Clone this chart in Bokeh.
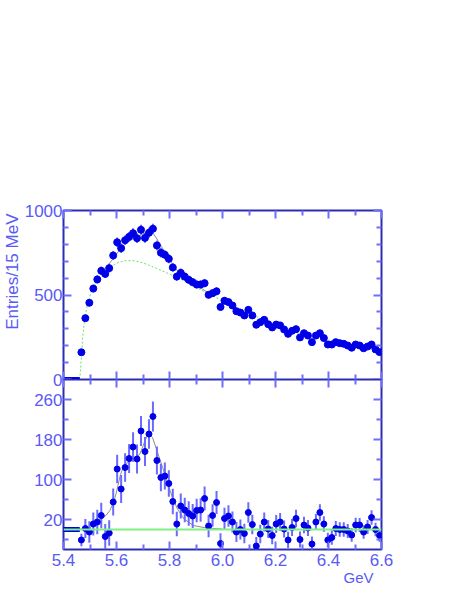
import numpy as np
from bokeh.plotting import figure
from bokeh.layouts import column
from bokeh.models import (Range1d, LinearAxis, FixedTicker, Title, Span,
                          PrintfTickFormatter, CustomJSTickFormatter, ColumnDataSource)
from bokeh.embed import file_html
from bokeh.resources import INLINE

# ---------------- data ----------------
bin_lo = 5.4
bin_width = 0.015   # 15 MeV bins
entries = [0, 0, 0, 0, 161, 363, 454, 538, 592, 643,
           625, 659, 734, 812, 777, 824, 844, 866, 836, 886,
           838, 868, 892, 793, 750, 738, 714, 663, 609, 631,
           609, 590, 576, 562, 562, 570, 501, 511, 522, 429,
           466, 458, 438, 404, 396, 379, 412, 379, 324, 339,
           353, 327, 308, 325, 320, 296, 270, 288, 298, 249,
           274, 260, 221, 260, 274, 245, 207, 207, 221, 215,
           211, 201, 188, 207, 201, 185, 195, 207, 178, 162]
signal = [0, 0, 0, 0, -21, 2, -5, 11, 15, 28,
          -14, -7, 55, 121, 81, 124, 142, 165, 141, 197,
          156, 191, 226, 138, 104, 107, 92, 56, 11, 47,
          39, 32, 27, 38, 39, 62, 7, 28, 54, -28,
          22, 27, 15, -5, 0, -8, 34, 10, -33, -9,
          15, 1, -12, 11, 15, 1, -21, 4, 22, -20,
          9, 3, -29, 15, 34, 11, -21, -16, 2, 0,
          0, -3, -11, 9, 9, -5, 5, 24, 0, -12]

# background fit (green dotted, top panel)
bkg_x = [5.461, 5.465, 5.468, 5.472, 5.477, 5.483, 5.490, 5.502, 5.515, 5.53, 5.55,
         5.57, 5.60, 5.63, 5.66, 5.69, 5.72, 5.75, 5.80, 5.85, 5.90, 5.95, 6.00,
         6.05, 6.10, 6.15, 6.20, 6.25, 6.30, 6.35, 6.40, 6.45, 6.50, 6.55, 6.60]
bkg_y = [0, 70, 142, 240, 320, 385, 438, 507, 556, 592, 628,
         655, 688, 702, 704, 695, 678, 658, 624, 588, 545, 505, 465,
         428, 392, 357, 322, 293, 268, 250, 233, 218, 203, 188, 170]
# total fit (grey, top panel)
tot_x = [5.54, 5.56, 5.58, 5.60, 5.62, 5.64, 5.66, 5.68, 5.70, 5.72, 5.735,
         5.75, 5.77, 5.79, 5.81, 5.83, 5.85, 5.88, 5.92, 5.96]
tot_y = [632, 662, 700, 742, 785, 812, 830, 845, 862, 878, 872,
         838, 786, 735, 685, 643, 608, 578, 540, 498]
# signal fit (grey, bottom panel)
sig_x = [5.455, 5.47, 5.50, 5.52, 5.54, 5.56, 5.575, 5.59, 5.60, 5.615, 5.63, 5.65,
         5.67, 5.69, 5.71, 5.723, 5.736, 5.755, 5.774, 5.792, 5.811, 5.83,
         5.855, 5.89, 5.94, 6.0]
sig_y = [0, 1, 4, 10, 20, 28, 38, 56, 75, 110, 130, 136,
         139, 153, 181, 192, 184, 154, 124, 94, 64, 41,
         21, 8, 3, 1]

top_ticks = [0, 500, 1000]
top_minor = [100, 200, 300, 400, 600, 700, 800, 900]
bot_ticks = [20, 100, 180, 260]
bot_minor = [-20, 60, 140, 220]
x_ticks = [5.4, 5.6, 5.8, 6.0, 6.2, 6.4, 6.6]
x_minor = [5.5, 5.7, 5.9, 6.1, 6.3, 6.5]

# ---------------- style ----------------
FRAME = "#2d2db4"
TICK = "#6e6eff"
LAB = "#5a5af5"
MARK = "#0000e8"
ERR = "#6a6aff"
GREEN_D = "#6fdc6f"
GREEN_L = "#80f080"
GRAY = "#8c8c8c"
FONT = "Liberation Sans"

x = bin_lo + bin_width * (np.arange(len(entries)) + 0.5)
n = np.array(entries, dtype=float)
s = np.array(signal, dtype=float)
err = np.sqrt(n)
nz = n > 0
zero = ~nz

top_src = ColumnDataSource(dict(x=x[nz], y=n[nz], lo=n[nz] - err[nz], hi=n[nz] + err[nz]))
top_zero = ColumnDataSource(dict(x=x[zero], y=n[zero]))
bot_src = ColumnDataSource(dict(x=x[nz], y=s[nz], lo=s[nz] - err[nz], hi=s[nz] + err[nz]))
bot_zero = ColumnDataSource(dict(x=x[zero], y=s[zero]))


def make_axis(ticks, minor, major_in, minor_in, labels, fmt=None, standoff=4):
    ax = LinearAxis(ticker=FixedTicker(ticks=ticks, minor_ticks=minor))
    ax.axis_line_color = None
    ax.major_tick_in = major_in
    ax.major_tick_out = 0
    ax.minor_tick_in = minor_in
    ax.minor_tick_out = 0
    ax.major_tick_line_color = TICK
    ax.minor_tick_line_color = TICK
    ax.major_tick_line_width = 2
    ax.minor_tick_line_width = 2
    if labels:
        ax.major_label_text_font = FONT
        ax.major_label_text_font_size = "17px"
        ax.major_label_text_color = LAB
        ax.major_label_standoff = standoff
        if fmt is not None:
            ax.formatter = fmt
    else:
        ax.formatter = CustomJSTickFormatter(code="return ''")
        ax.major_label_text_font_size = "1px"
        ax.major_label_standoff = 0
    return ax


def make_title(text, size, offset, valign="bottom"):
    t = Title(text=text, align="right", offset=offset, vertical_align=valign,
              text_font=FONT, text_font_size=size, text_font_style="normal",
              text_color=LAB)
    try:
        t.standoff = 0
    except Exception:
        pass
    try:
        t.text_line_height = 1.0
    except Exception:
        pass
    return t


def make_fig(yr, fh, left, top, bottom):
    p = figure(frame_width=318, frame_height=fh,
               x_range=Range1d(5.4, 6.6), y_range=yr,
               output_backend="svg", toolbar_location=None,
               x_axis_location=None, y_axis_location=None,
               min_border_left=left, min_border_right=40,
               min_border_top=top, min_border_bottom=bottom)
    p.grid.visible = False
    p.outline_line_color = FRAME
    p.outline_line_width = 2
    p.background_fill_color = "white"
    return p


# ---------------- top panel ----------------
p1 = make_fig(Range1d(0, 1000), 169, 63, 210, 12)
p1.add_layout(make_axis(top_ticks, top_minor, 8, 5, True, standoff=1), "left")
p1.add_layout(make_axis(top_ticks, top_minor, 8, 5, False), "right")
p1.add_layout(make_axis(x_ticks, x_minor, 8, 5, False), "below")
p1.add_layout(make_axis(x_ticks, x_minor, 8, 5, False), "above")
p1.add_layout(make_title("Entries/15 MeV", "17px", 3), "left")

p1.line(bkg_x, bkg_y, line_color=GREEN_D, line_width=1, line_dash="2 2")
p1.line(tot_x, tot_y, line_color=GRAY, line_width=1)
p1.segment(x0="x", y0="lo", x1="x", y1="hi", source=top_src, line_color=ERR, line_width=2)
p1.scatter("x", "y", source=top_src, size=7, fill_color=MARK, line_color=MARK)
p1.scatter("x", "y", source=top_zero, marker="square", size=4, fill_color=MARK, line_color=MARK)

# ---------------- bottom panel ----------------
p2 = make_fig(Range1d(-40, 300), 170, 63, 0, 34)
p2.border_fill_color = None
p2.margin = (-12, 0, 0, 0)
p2.add_layout(make_axis(bot_ticks, bot_minor, 8, 5, True, standoff=1), "left")
p2.add_layout(make_axis(bot_ticks, bot_minor, 8, 5, False), "right")
p2.add_layout(make_axis(x_ticks, x_minor, 8, 5, True, PrintfTickFormatter(format="%.1f")), "below")
p2.add_layout(make_axis(x_ticks, x_minor, 8, 5, False), "above")
p2.add_layout(make_title("GeV", "15px", 8, "top"), "below")

p2.add_layout(Span(location=0, dimension="width", line_color=GREEN_L, line_width=2))
p2.line(sig_x, sig_y, line_color=GRAY, line_width=1)
p2.segment(x0="x", y0="lo", x1="x", y1="hi", source=bot_src, line_color=ERR, line_width=2)
p2.scatter("x", "y", source=bot_src, size=6, fill_color=MARK, line_color=MARK)
p2.scatter("x", "y", source=bot_zero, marker="square", size=4, fill_color=MARK, line_color=MARK)

layout = column(p1, p2, spacing=0)
open("out.html", "w").write(file_html(layout, INLINE))
